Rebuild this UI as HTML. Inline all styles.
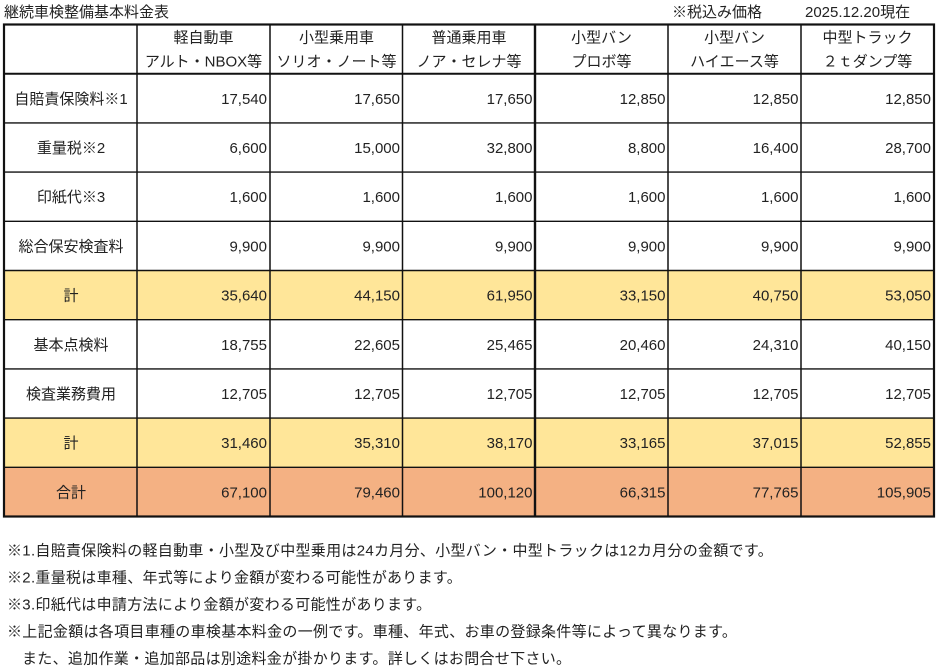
<!DOCTYPE html>
<html><head><meta charset="utf-8"><style>
html,body{margin:0;padding:0;background:#fff;}
svg{display:block;}
text{font-family:"Liberation Sans","Noto Sans CJK JP",sans-serif;font-size:15px;fill:#222;}
.fn{letter-spacing:0.3px;}
</style></head><body>
<svg width="936" height="671" viewBox="0 0 936 671" xmlns="http://www.w3.org/2000/svg">
<rect x="0" y="0" width="936" height="671" fill="#fff"/>
<!-- colored rows -->
<rect x="4" y="270.5" width="930" height="49.2" fill="#FFE699"/>
<rect x="4" y="418.1" width="930" height="49.2" fill="#FFE699"/>
<rect x="4" y="467.3" width="930" height="49.2" fill="#F4B183"/>
<!-- horizontal lines -->
<g stroke="#111" stroke-width="1.4">
<line x1="4" y1="122.9" x2="934" y2="122.9"/>
<line x1="4" y1="172.1" x2="934" y2="172.1"/>
<line x1="4" y1="221.3" x2="934" y2="221.3"/>
<line x1="4" y1="270.5" x2="934" y2="270.5"/>
<line x1="4" y1="319.7" x2="934" y2="319.7"/>
<line x1="4" y1="368.9" x2="934" y2="368.9"/>
<line x1="4" y1="418.1" x2="934" y2="418.1"/>
<line x1="4" y1="467.3" x2="934" y2="467.3"/>
</g>
<line x1="4" y1="73.7" x2="934" y2="73.7" stroke="#111" stroke-width="2"/>
<!-- vertical lines -->
<g stroke="#111" stroke-width="1.5">
<line x1="137" y1="24.5" x2="137" y2="516.5"/>
<line x1="270" y1="24.5" x2="270" y2="516.5"/>
<line x1="402.5" y1="24.5" x2="402.5" y2="516.5"/>
<line x1="668" y1="24.5" x2="668" y2="516.5"/>
<line x1="801" y1="24.5" x2="801" y2="516.5"/>
</g>
<line x1="535" y1="24.5" x2="535" y2="516.5" stroke="#111" stroke-width="2.4"/>
<rect x="4" y="24.5" width="930" height="492" fill="none" stroke="#111" stroke-width="2.2"/>

<!-- top texts -->
<text x="4" y="17">継続車検整備基本料金表</text>
<text x="672" y="17">※税込み価格</text>
<text x="805" y="17">2025.12.20現在</text>

<!-- header -->
<g text-anchor="middle">
<text x="203.5" y="42.5">軽自動車</text>
<text x="203.5" y="66.5">アルト・NBOX等</text>
<text x="336.5" y="42.5">小型乗用車</text>
<text x="336.5" y="66.5">ソリオ・ノート等</text>
<text x="469" y="42.5">普通乗用車</text>
<text x="469" y="66.5">ノア・セレナ等</text>
<text x="601.5" y="42.5">小型バン</text>
<text x="601.5" y="66.5">プロボ等</text>
<text x="734.5" y="42.5">小型バン</text>
<text x="734.5" y="66.5">ハイエース等</text>
<text x="867.5" y="42.5">中型トラック</text>
<text x="867.5" y="66.5">２ｔダンプ等</text>

<!-- row labels -->
<text x="71" y="103.8">自賠責保険料※1</text>
<text x="71" y="153">重量税※2</text>
<text x="71" y="202.2">印紙代※3</text>
<text x="71" y="251.4">総合保安検査料</text>
<text x="71" y="300.6">計</text>
<text x="71" y="349.8">基本点検料</text>
<text x="71" y="399">検査業務費用</text>
<text x="71" y="448.2">計</text>
<text x="71" y="497.4">合計</text>
</g>

<!-- numbers: column right edges 267, 400, 532.5, 665.5, 798.5, 931 -->
<g text-anchor="end">
<!-- Row 1 -->
<text x="267" y="103.8">17,540</text><text x="400" y="103.8">17,650</text><text x="532.5" y="103.8">17,650</text><text x="665.5" y="103.8">12,850</text><text x="798.5" y="103.8">12,850</text><text x="931" y="103.8">12,850</text>
<!-- Row 2 -->
<text x="267" y="153">6,600</text><text x="400" y="153">15,000</text><text x="532.5" y="153">32,800</text><text x="665.5" y="153">8,800</text><text x="798.5" y="153">16,400</text><text x="931" y="153">28,700</text>
<!-- Row 3 -->
<text x="267" y="202.2">1,600</text><text x="400" y="202.2">1,600</text><text x="532.5" y="202.2">1,600</text><text x="665.5" y="202.2">1,600</text><text x="798.5" y="202.2">1,600</text><text x="931" y="202.2">1,600</text>
<!-- Row 4 -->
<text x="267" y="251.4">9,900</text><text x="400" y="251.4">9,900</text><text x="532.5" y="251.4">9,900</text><text x="665.5" y="251.4">9,900</text><text x="798.5" y="251.4">9,900</text><text x="931" y="251.4">9,900</text>
<!-- Row 5 -->
<text x="267" y="300.6">35,640</text><text x="400" y="300.6">44,150</text><text x="532.5" y="300.6">61,950</text><text x="665.5" y="300.6">33,150</text><text x="798.5" y="300.6">40,750</text><text x="931" y="300.6">53,050</text>
<!-- Row 6 -->
<text x="267" y="349.8">18,755</text><text x="400" y="349.8">22,605</text><text x="532.5" y="349.8">25,465</text><text x="665.5" y="349.8">20,460</text><text x="798.5" y="349.8">24,310</text><text x="931" y="349.8">40,150</text>
<!-- Row 7 -->
<text x="267" y="399">12,705</text><text x="400" y="399">12,705</text><text x="532.5" y="399">12,705</text><text x="665.5" y="399">12,705</text><text x="798.5" y="399">12,705</text><text x="931" y="399">12,705</text>
<!-- Row 8 -->
<text x="267" y="448.2">31,460</text><text x="400" y="448.2">35,310</text><text x="532.5" y="448.2">38,170</text><text x="665.5" y="448.2">33,165</text><text x="798.5" y="448.2">37,015</text><text x="931" y="448.2">52,855</text>
<!-- Row 9 -->
<text x="267" y="497.4">67,100</text><text x="400" y="497.4">79,460</text><text x="532.5" y="497.4">100,120</text><text x="665.5" y="497.4">66,315</text><text x="798.5" y="497.4">77,765</text><text x="931" y="497.4">105,905</text>
</g>

<!-- footnotes -->
<text class="fn" x="7" y="555.5">※1.自賠責保険料の軽自動車・小型及び中型乗用は24カ月分、小型バン・中型トラックは12カ月分の金額です。</text>
<text class="fn" x="7" y="582.5">※2.重量税は車種、年式等により金額が変わる可能性があります。</text>
<text class="fn" x="7" y="609.5">※3.印紙代は申請方法により金額が変わる可能性があります。</text>
<text class="fn" x="7" y="636.5">※上記金額は各項目車種の車検基本料金の一例です。車種、年式、お車の登録条件等によって異なります。</text>
<text class="fn" x="22" y="663.5">また、追加作業・追加部品は別途料金が掛かります。詳しくはお問合せ下さい。</text>
</svg>
</body></html>
